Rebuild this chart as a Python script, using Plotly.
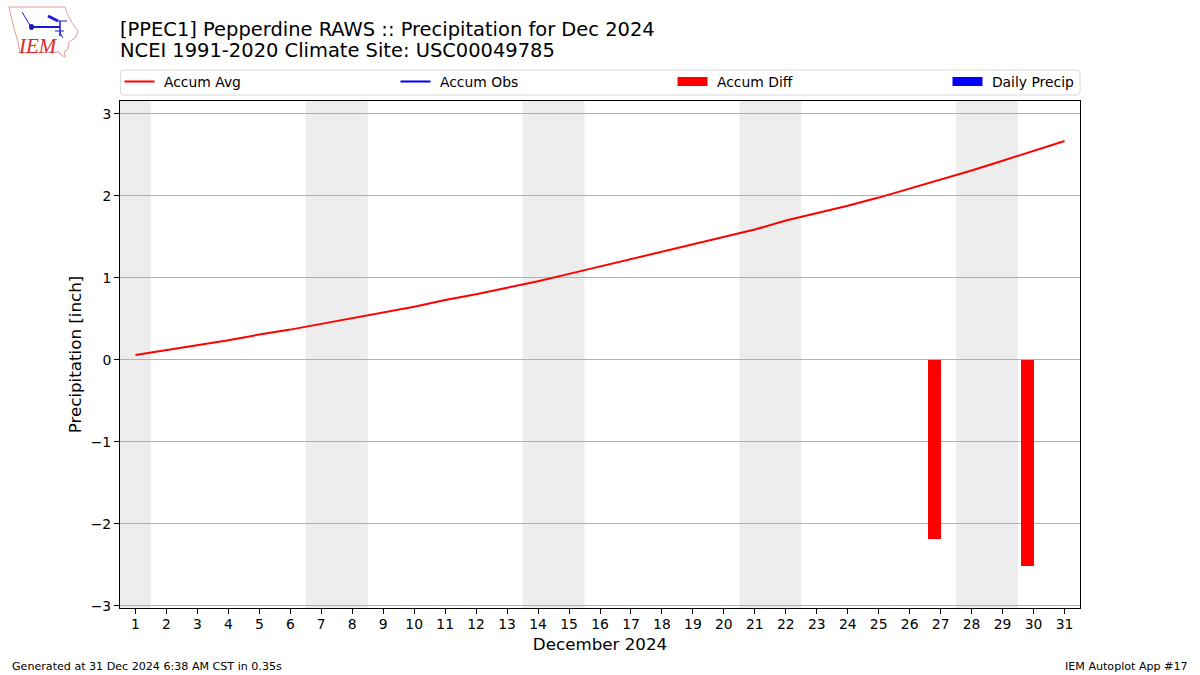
import plotly.graph_objects as go

days = list(range(1, 32))
accum_avg = [0.06, 0.12, 0.18, 0.24, 0.31, 0.37, 0.44, 0.51, 0.58, 0.65, 0.73, 0.80, 0.88, 0.96, 1.05, 1.14,
             1.23, 1.32, 1.41, 1.50, 1.59, 1.70, 1.79, 1.88, 1.98, 2.09, 2.20, 2.31, 2.43, 2.55, 2.67]
diff_days = [27, 30]
accum_diff = [-2.18, -2.51]
weekend_spans = [(0.5, 1.5), (6.5, 8.5), (13.5, 15.5), (20.5, 22.5), (27.5, 29.5)]
y_ticks = [-3, -2, -1, 0, 1, 2, 3]
y_labels = ["\u22123", "\u22122", "\u22121", "0", "1", "2", "3"]
title_line = "[PPEC1] Pepperdine RAWS :: Precipitation for Dec 2024"
subtitle_line = "NCEI 1991-2020 Climate Site: USC00049785"

W, H = 1200, 675
L, R, T, B = 120, 1080, 101, 608
FONT = "DejaVu Sans"

def px(x):
    return (x - L) / (R - L)

def py(y):
    return (B - y) / (B - T)

def path(points, close=False):
    s = "M " + " L ".join(f"{px(a):.5f},{py(b):.5f}" for a, b in points)
    return s + (" Z" if close else "")

fig = go.Figure()
fig.add_trace(go.Scatter(x=days, y=accum_avg, mode="lines", name="\u00a0Accum Avg",
                         line=dict(color="#ff0000", width=2), legend="legend"))
fig.add_trace(go.Scatter(x=[None], y=[None], mode="lines", name="\u00a0Accum Obs",
                         line=dict(color="#0000ff", width=2), legend="legend2"))
fig.add_trace(go.Bar(x=diff_days, y=accum_diff, width=0.4, offset=-0.4, marker=dict(color="#ff0000", line_width=0),
                     showlegend=False))
fig.add_trace(go.Scatter(x=[None], y=[None], mode="lines", name="\u00a0Accum Diff",
                         line=dict(color="#ff0000", width=9), legend="legend3"))
fig.add_trace(go.Scatter(x=[None], y=[None], mode="lines", name="\u00a0Daily Precip",
                         line=dict(color="#0000ff", width=9), legend="legend4"))

shapes = []
for a, b in weekend_spans:
    shapes.append(dict(type="rect", xref="x", yref="paper", x0=a, x1=b, y0=0, y1=1,
                       fillcolor="rgba(0,0,0,0.07)", line_width=0, layer="below"))

# rounded legend frame
r = 3
lx0, lx1, ly0, ly1 = 120.5, 1080, 70, 95
frame = (f"M {px(lx0+r):.5f},{py(ly0):.5f} L {px(lx1-r):.5f},{py(ly0):.5f} "
         f"Q {px(lx1):.5f},{py(ly0):.5f} {px(lx1):.5f},{py(ly0+r):.5f} "
         f"L {px(lx1):.5f},{py(ly1-r):.5f} Q {px(lx1):.5f},{py(ly1):.5f} {px(lx1-r):.5f},{py(ly1):.5f} "
         f"L {px(lx0+r):.5f},{py(ly1):.5f} Q {px(lx0):.5f},{py(ly1):.5f} {px(lx0):.5f},{py(ly1-r):.5f} "
         f"L {px(lx0):.5f},{py(ly0+r):.5f} Q {px(lx0):.5f},{py(ly0):.5f} {px(lx0+r):.5f},{py(ly0):.5f} Z")
shapes.append(dict(type="path", xref="paper", yref="paper", path=frame,
                   line=dict(color="#d9d9d9", width=1), fillcolor="white", layer="below"))

# IEM logo, drawn as simple paths in page coordinates
iowa = [(9, 7), (65, 7), (67, 13), (72, 23), (78, 31), (76, 37), (69, 42), (68, 49), (64, 52),
        (65, 57), (61, 55), (59, 52), (20, 53), (18, 42), (14, 28), (11, 16)]
shapes.append(dict(type="path", xref="paper", yref="paper", path=path(iowa, True),
                   line=dict(color="#e59a9a", width=1), fillcolor="white"))
for seg, w in [([(31, 27), (60, 27)], 2), ([(60, 21), (60, 36)], 1.5), ([(48, 16), (58, 21)], 3),
               ([(58, 21), (67, 21)], 1), ([(22, 12), (31, 27)], 1), ([(55, 31), (64, 31)], 1),
               ([(60, 33), (63, 38)], 1)]:
    shapes.append(dict(type="path", xref="paper", yref="paper", path=path(seg),
                       line=dict(color="#1a1ad6", width=w)))
shapes.append(dict(type="circle", xref="paper", yref="paper", x0=px(29), x1=px(34), y0=py(30), y1=py(24),
                   fillcolor="#1a1ad6", line_width=0))

annotations = [
    dict(text=subtitle_line, x=px(120), y=py(51), xref="paper", yref="paper", showarrow=False, borderpad=0,
         font=dict(family=FONT, size=19.47, color="black"), xanchor="left", yanchor="middle", xshift=-1),
    dict(text="<i>IEM</i>", x=px(37.5), y=py(46), xref="paper", yref="paper", showarrow=False,
         font=dict(family="Liberation Serif", size=21, color="#d92a2a"), xanchor="center", yanchor="middle"),
    dict(text="Generated at 31 Dec 2024 6:38 AM CST in 0.35s", x=px(9.5), y=py(666), xref="paper", yref="paper",
         showarrow=False, font=dict(family=FONT, size=11.1, color="black"), xanchor="left", yanchor="middle"),
    dict(text="IEM Autoplot App #17", x=px(1190), y=py(666), xref="paper", yref="paper",
         showarrow=False, font=dict(family=FONT, size=11.1, color="black"), xanchor="right", yanchor="middle"),
]

def legend_at(x_px):
    return dict(x=px(x_px), y=py(82), xanchor="left", yanchor="middle", bgcolor="rgba(0,0,0,0)", borderwidth=0,
                font=dict(family=FONT, size=13.9, color="black"), itemwidth=30)

fig.update_layout(
    width=W, height=H, autosize=False,
    margin=dict(l=L, r=W - R, t=T, b=H - B),
    paper_bgcolor="white", plot_bgcolor="white",
    font=dict(family=FONT, size=13.9, color="black"),
    title=dict(text=title_line, x=0, xref="paper", xanchor="left", y=1 - 29 / H, yanchor="middle",
               font=dict(family=FONT, size=19.47, color="black")),
    xaxis=dict(range=[0.5, 31.5], tickmode="array", tickvals=days, ticktext=[str(d) for d in days],
               showgrid=False, ticks="outside", ticklen=5, tickwidth=1, tickcolor="black",
               showline=True, linecolor="black", linewidth=1, mirror=True, zeroline=False, ticklabelstandoff=-2,
               title=dict(text="December 2024", font=dict(family=FONT, size=16.7), standoff=7),
               tickfont=dict(family=FONT, size=13.9)),
    yaxis=dict(range=[-3.025, 3.158], tickmode="array", tickvals=y_ticks, ticktext=y_labels,
               showgrid=True, gridcolor="#b0b0b0", gridwidth=1, ticks="outside", ticklen=5, tickwidth=1,
               tickcolor="black", showline=True, linecolor="black", linewidth=1, mirror=True, zeroline=False,
               title=dict(text="Precipitation [inch]", font=dict(family=FONT, size=16.7), standoff=4),
               tickfont=dict(family=FONT, size=13.9)),
    shapes=shapes, annotations=annotations, bargap=0,
    legend=legend_at(119.5), legend2=legend_at(395.5), legend3=legend_at(672.5), legend4=legend_at(947.5),
)
fig.write_html("out.html", post_script="document.body.style.margin='0';", config={"displayModeBar": False})
